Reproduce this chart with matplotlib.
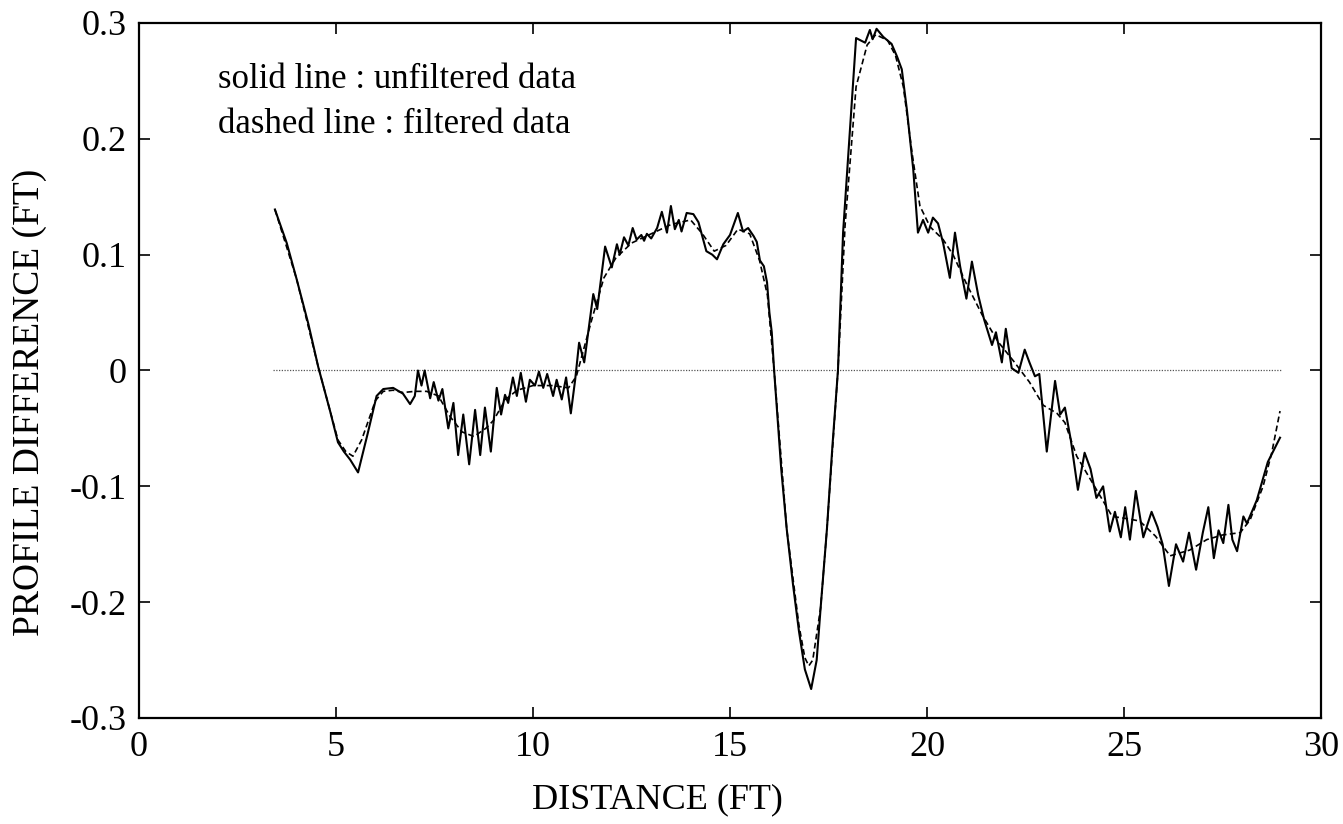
import matplotlib
matplotlib.use("Agg")
import matplotlib.pyplot as plt

# ---- data ----
solid_x = [3.45, 3.75, 4.0, 4.3, 4.55, 4.85, 5.05, 5.2, 5.36, 5.56, 5.8, 6.03, 6.2, 6.45, 6.7, 6.88, 7.0,
           7.08, 7.17, 7.25, 7.39, 7.48, 7.6, 7.7, 7.85, 7.98, 8.1, 8.23, 8.38, 8.53, 8.66, 8.78, 8.93,
           9.08, 9.19, 9.29, 9.37, 9.49, 9.59, 9.69, 9.82, 9.92, 10.05, 10.15, 10.26, 10.36, 10.51, 10.6,
           10.73, 10.84, 10.96, 11.07, 11.17, 11.3, 11.53, 11.63, 11.83, 12.0, 12.13, 12.2, 12.31, 12.42,
           12.53, 12.63, 12.75, 12.82, 12.89, 13.0, 13.15, 13.27, 13.4, 13.5, 13.6, 13.7, 13.77, 13.9,
           14.07, 14.2, 14.4, 14.55, 14.67, 14.83, 15.0, 15.2, 15.33, 15.46, 15.6, 15.68, 15.76, 15.86,
           15.94, 16.0, 16.06, 16.12, 16.3, 16.44, 16.6, 16.75, 16.9, 17.06, 17.2, 17.3, 17.46, 17.6,
           17.74, 17.87, 17.98, 18.12, 18.2, 18.43, 18.55, 18.62, 18.72, 18.89, 19.1, 19.24, 19.36, 19.49,
           19.65, 19.77, 19.9, 20.03, 20.15, 20.28, 20.41, 20.58, 20.71, 20.84, 21.0, 21.14, 21.3, 21.45,
           21.65, 21.75, 21.9, 22.0, 22.15, 22.32, 22.48, 22.6, 22.74, 22.85, 22.92, 23.04, 23.25, 23.38,
           23.5, 23.65, 23.83, 24.0, 24.15, 24.3, 24.47, 24.64, 24.77, 24.92, 25.03, 25.15, 25.3, 25.49,
           25.7, 25.85, 25.98, 26.14, 26.32, 26.5, 26.65, 26.83, 27.0, 27.14, 27.28, 27.4, 27.52, 27.65,
           27.75, 27.87, 28.03, 28.12, 28.37, 28.65, 28.96]
solid_y = [0.139, 0.110, 0.079, 0.040, 0.003, -0.035, -0.062, -0.070, -0.077, -0.088, -0.055, -0.022, -0.016,
           -0.015, -0.020, -0.029, -0.022,
           0.000, -0.013, 0.000, -0.024, -0.010, -0.026, -0.016, -0.050, -0.028, -0.073, -0.038, -0.081,
           -0.034, -0.073, -0.032, -0.070,
           -0.015, -0.038, -0.021, -0.028, -0.006, -0.022, -0.002, -0.027, -0.008, -0.013, -0.001, -0.015,
           -0.003, -0.022, -0.008,
           -0.025, -0.006, -0.037, -0.008, 0.024, 0.007, 0.066, 0.053, 0.107, 0.089, 0.109, 0.100, 0.115,
           0.108,
           0.123, 0.113, 0.117, 0.112, 0.118, 0.114, 0.123, 0.137, 0.119, 0.142, 0.122, 0.130, 0.120, 0.136,
           0.135, 0.128, 0.103, 0.100, 0.096, 0.109, 0.117, 0.136, 0.120, 0.123, 0.116, 0.111, 0.095, 0.090,
           0.076, 0.050, 0.033, 0.000, -0.085, -0.137, -0.185, -0.225, -0.258, -0.275, -0.250, -0.205,
           -0.137, -0.065,
           0.000, 0.119, 0.175, 0.245, 0.287, 0.283, 0.294, 0.286, 0.295, 0.288, 0.282, 0.271, 0.260, 0.225,
           0.174, 0.119, 0.130, 0.119, 0.132, 0.127, 0.110, 0.080, 0.119, 0.090, 0.062, 0.094, 0.065, 0.044,
           0.022, 0.033, 0.007, 0.036, 0.002, -0.002, 0.018, 0.007, -0.005, -0.003, -0.028, -0.070, -0.009,
           -0.038,
           -0.032, -0.060, -0.103, -0.071, -0.085, -0.110, -0.100, -0.139, -0.122, -0.144, -0.118, -0.146,
           -0.104, -0.144,
           -0.122, -0.135, -0.150, -0.186, -0.150, -0.165, -0.140, -0.172, -0.140, -0.118, -0.162, -0.138,
           -0.149, -0.116,
           -0.146, -0.156, -0.126, -0.132, -0.112, -0.079, -0.058]

filt_x = [3.45, 4.0, 4.55, 5.05, 5.25, 5.43, 5.65, 6.0, 6.2, 6.45, 6.7, 7.0, 7.3, 7.6, 7.9, 8.2, 8.5, 8.8,
          9.0, 9.3, 9.6, 10.0, 10.5, 10.9, 11.1, 11.3, 11.5, 11.8, 12.1, 12.5, 13.0, 13.5, 14.0, 14.3, 14.6,
          14.9, 15.2, 15.5, 15.75, 15.95, 16.12, 16.44, 16.75, 16.9, 17.0, 17.1, 17.3, 17.46, 17.74, 17.92,
          18.2, 18.48, 18.7, 19.0, 19.2, 19.4, 19.62, 19.82, 20.08, 20.41, 20.66, 21.0, 21.4, 21.8, 22.2,
          22.6, 22.95, 23.3, 23.5, 23.8, 24.2, 24.7, 25.1, 25.4, 25.8, 26.17, 26.67, 27.1, 27.5, 27.95,
          28.2, 28.53, 28.75, 28.96]
filt_y = [0.139, 0.079, 0.003, -0.060, -0.070, -0.074, -0.060, -0.026, -0.018, -0.017, -0.019, -0.018,
          -0.018, -0.022, -0.040, -0.053, -0.057, -0.050,
          -0.043, -0.025, -0.017, -0.013, -0.013, -0.015, -0.005, 0.020, 0.045, 0.080, 0.097, 0.110, 0.118,
          0.126, 0.130, 0.118, 0.103,
          0.108, 0.122, 0.118, 0.095, 0.065, 0.000, -0.137, -0.220, -0.248, -0.255, -0.250, -0.205, -0.137,
          0.000, 0.125,
          0.245, 0.281, 0.290, 0.285, 0.272, 0.245, 0.188, 0.142, 0.124, 0.113, 0.100, 0.075, 0.048, 0.025,
          0.008,
          -0.010, -0.030, -0.037, -0.045, -0.074, -0.097, -0.126, -0.128, -0.130, -0.143, -0.160, -0.155,
          -0.146, -0.142, -0.140,
          -0.129, -0.100, -0.071, -0.035]

zero_x = [3.4, 29.0]
zero_y = [0.0, 0.0]

x_ticks = [0, 5, 10, 15, 20, 25, 30]
x_labels = ["0", "5", "10", "15", "20", "25", "30"]
y_ticks = [-0.3, -0.2, -0.1, 0.0, 0.1, 0.2, 0.3]
y_labels = ["-0.3", "-0.2", "-0.1", "0", "0.1", "0.2", "0.3"]

note_lines = ["solid line : unfiltered data", "dashed line : filtered data"]

# ---- figure ----
plt.rcParams["font.family"] = ["Liberation Serif", "DejaVu Serif"]
plt.rcParams["axes.unicode_minus"] = False

W, H = 1343, 824
fig = plt.figure(figsize=(W / 100, H / 100), dpi=100)
ax = fig.add_axes([139 / W, 1 - 718 / H, (1321 - 139) / W, (718 - 23) / H])

ax.plot(zero_x, zero_y, linestyle=(0, (1, 1.2)), color="#555555", linewidth=0.9)
ax.plot(filt_x, filt_y, color="black", linewidth=1.2, linestyle=(0, (3.5, 2)))
ax.plot(solid_x, solid_y, color="black", linewidth=1.5)

ax.set_xlim(0, 30)
ax.set_ylim(-0.3, 0.3)
ax.set_xticks(x_ticks)
ax.set_xticklabels(x_labels)
ax.set_yticks(y_ticks)
ax.set_yticklabels(y_labels)
ax.tick_params(direction="in", length=8, width=1.2, top=True, right=True,
               labelsize=26, pad=9, colors="black")
for s in ax.spines.values():
    s.set_linewidth(1.6)

ax.text(2.0, 0.251, note_lines[0], fontsize=25, va="center", ha="left")
ax.text(2.0, 0.212, note_lines[1], fontsize=25, va="center", ha="left")

fig.text(657 / W, 1 - 800 / H, "DISTANCE (FT)", fontsize=26, ha="center", va="center")
fig.text(30 / W, 1 - 402 / H, "PROFILE DIFFERENCE (FT)", fontsize=27, ha="center", va="center",
         rotation=90)

fig.savefig("out.png", dpi=100, facecolor="white")
